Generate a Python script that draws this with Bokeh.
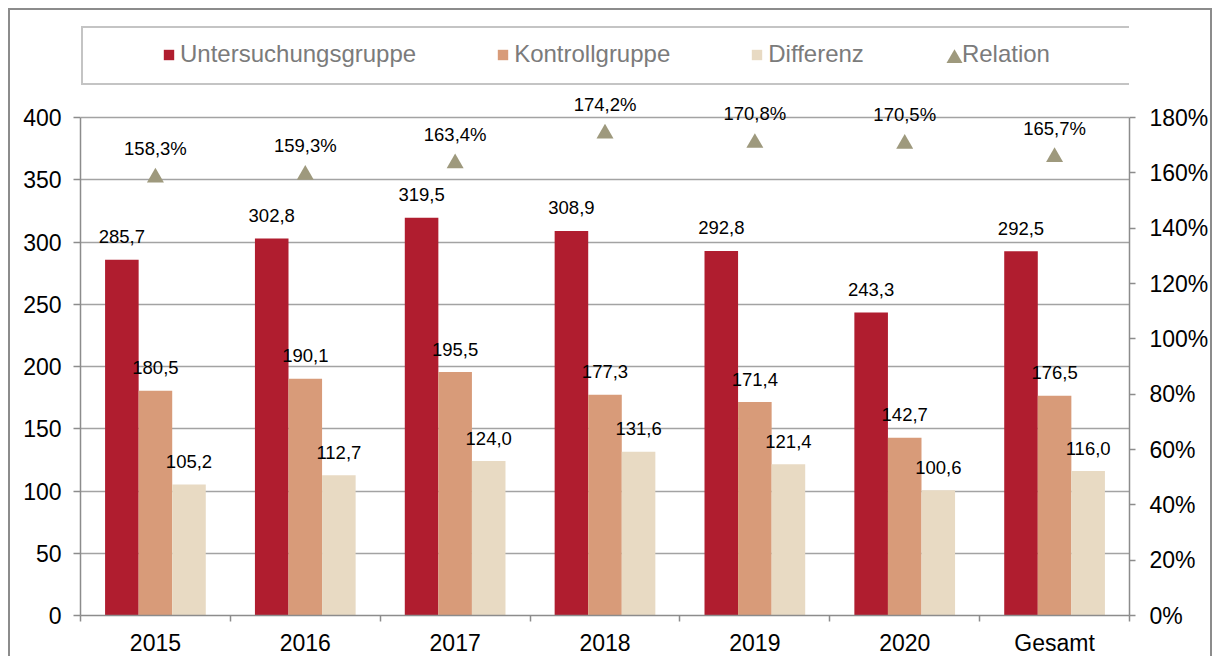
from bokeh.plotting import figure
from bokeh.models import (ColumnDataSource, Range1d, LinearAxis, FixedTicker,
                          Legend, LegendItem)
from bokeh.core.properties import value
from bokeh.embed import file_html
from bokeh.resources import INLINE

# ---- data ----
categories = ["2015", "2016", "2017", "2018", "2019", "2020", "Gesamt"]
untersuchung = [285.7, 302.8, 319.5, 308.9, 292.8, 243.3, 292.5]
kontroll = [180.5, 190.1, 195.5, 177.3, 171.4, 142.7, 176.5]
differenz = [105.2, 112.7, 124.0, 131.6, 121.4, 100.6, 116.0]
relation = [158.3, 159.3, 163.4, 174.2, 170.8, 170.5, 165.7]
left_ticks = [0, 50, 100, 150, 200, 250, 300, 350, 400]
right_ticks = [0, 20, 40, 60, 80, 100, 120, 140, 160, 180]

C_RED = "#B01D2F"
C_ORA = "#D89B79"
C_BEI = "#E8DAC3"
C_TRI = "#9E997D"
FONT = "Liberation Sans"
AXC = "#8c8c8c"

def fmt(v, suffix=""):
    return (f"{v:.1f}" + suffix).replace(".", ",")

n = len(categories)
centers = [i + 0.5 for i in range(n)]
bw = 0.224

# frame extends above the axes so the legend fits inside it
FRAME_H = 595      # px
AXIS_H = 498       # px used by 0..400
y_top = 400 * FRAME_H / AXIS_H
y2_top = 180 * FRAME_H / AXIS_H

p = figure(width=1204, height=648, output_backend="svg", toolbar_location=None,
           x_range=Range1d(0, n), y_range=Range1d(0, y_top),
           min_border_left=70, min_border_right=85, min_border_top=10,
           min_border_bottom=43)
p.styles = {"border-top": "2px solid #8c8c8c", "border-left": "2px solid #8c8c8c",
            "border-right": "2px solid #8c8c8c", "margin-left": "8px",
            "margin-top": "8px"}
p.outline_line_color = None
p.background_fill_color = "white"
p.border_fill_color = "white"
p.extra_y_ranges = {"pct": Range1d(0, y2_top)}

# axes
p.xaxis.ticker = FixedTicker(ticks=centers, minor_ticks=list(range(n + 1)))
p.xaxis.major_label_overrides = {c: lab for c, lab in zip(centers, categories)}
p.xaxis.major_tick_line_color = None
p.xaxis.major_tick_out = 0
p.xaxis.major_tick_in = 0
p.xaxis.minor_tick_out = 6
p.xaxis.minor_tick_in = 0
p.xaxis.minor_tick_line_color = AXC
p.xaxis.minor_tick_line_width = 1.5
p.xaxis.major_label_standoff = 8

p.yaxis.ticker = FixedTicker(ticks=left_ticks)
p.yaxis.bounds = (0, 400)
p.yaxis.major_tick_out = 7
p.yaxis.major_tick_in = 0
p.yaxis.minor_tick_line_color = None
p.yaxis.major_label_standoff = 12

right = LinearAxis(y_range_name="pct", ticker=FixedTicker(ticks=right_ticks),
                   major_label_overrides={t: f"{t}%" for t in right_ticks},
                   bounds=(0, 180))
right.major_tick_out = 6
right.major_tick_in = 0
right.minor_tick_line_color = None
right.major_label_standoff = 14
p.add_layout(right, "right")

for ax in p.axis:
    ax.axis_line_color = AXC
    ax.axis_line_width = 1.5
    ax.major_tick_line_width = 1.5
    if ax is not p.xaxis[0]:
        ax.major_tick_line_color = AXC
    ax.major_label_text_font = FONT
    ax.major_label_text_font_size = "23px"
    ax.major_label_text_color = "black"

p.xgrid.grid_line_color = None
p.ygrid.ticker = FixedTicker(ticks=left_ticks)
p.ygrid.grid_line_color = "#a3a3a3"
p.ygrid.grid_line_width = 1.3

# bars
src = ColumnDataSource(dict(
    xu=[c - bw for c in centers], xk=centers, xd=[c + bw for c in centers],
    u=untersuchung, k=kontroll, d=differenz, rel=relation,
    lu=[fmt(v) for v in untersuchung], lk=[fmt(v) for v in kontroll],
    ld=[fmt(v) for v in differenz], lr=[fmt(v, "%") for v in relation],
))
r_u = p.vbar(x="xu", top="u", width=bw, source=src, fill_color=C_RED, line_color=None)
r_k = p.vbar(x="xk", top="k", width=bw, source=src, fill_color=C_ORA, line_color=None)
r_d = p.vbar(x="xd", top="d", width=bw, source=src, fill_color=C_BEI, line_color=None)
r_t = p.scatter(x="xk", y="rel", y_range_name="pct", source=src, marker="triangle",
                size=17, fill_color=C_TRI, line_color=None)

for xcol, ycol, lcol in [("xu", "u", "lu"), ("xk", "k", "lk"), ("xd", "d", "ld")]:
    p.text(x=xcol, y=ycol, text=lcol, source=src, text_align="center",
           text_baseline="middle", y_offset=-23, text_font=value(FONT),
           text_font_size="18.5px", text_color="black")
p.text(x="xk", y="rel", text="lr", source=src, y_range_name="pct", text_align="center",
       text_baseline="middle", y_offset=-29, text_font=value(FONT),
       text_font_size="18.5px", text_color="black")

# dummy (invisible) renderer for legend helpers
dummy = p.scatter(x=[], y=[], marker="square", fill_alpha=0, line_alpha=0)

# legend box
leg_box = Legend(items=[LegendItem(label=" ", renderers=[dummy])], location=(1, 530),
                 padding=0, margin=0, spacing=0, glyph_width=1, glyph_height=1,
                 label_standoff=0, label_width=1045, label_height=55,
                 label_text_font_size="10px",
                 border_line_color="#8a8a8a", border_line_width=2,
                 background_fill_color="white", background_fill_alpha=1)
p.add_layout(leg_box, "center")

leg_items = Legend(items=[
    LegendItem(label="Untersuchungsgruppe", renderers=[r_u]),
    LegendItem(label="Kontrollgruppe", renderers=[r_k]),
    LegendItem(label="Differenz", renderers=[r_d]),
    LegendItem(label="Relation", renderers=[dummy]),
], location=(82, 547), orientation="horizontal", padding=0, margin=0, spacing=80,
    glyph_width=13, glyph_height=13, label_standoff=5, label_height=13,
    label_text_font=FONT, label_text_font_size="24px", label_text_color="#7b7b7b",
    border_line_color=None, background_fill_alpha=0)
p.add_layout(leg_items, "center")

leg_tri = Legend(items=[LegendItem(label=" ", renderers=[r_t])], location=(854, 537),
                 padding=0, margin=0, glyph_width=40, glyph_height=40, label_standoff=0,
                 label_width=0, label_text_font_size="10px",
                 border_line_color=None, background_fill_alpha=0)
p.add_layout(leg_tri, "center")

open("out.html", "w").write(file_html(p, INLINE))
